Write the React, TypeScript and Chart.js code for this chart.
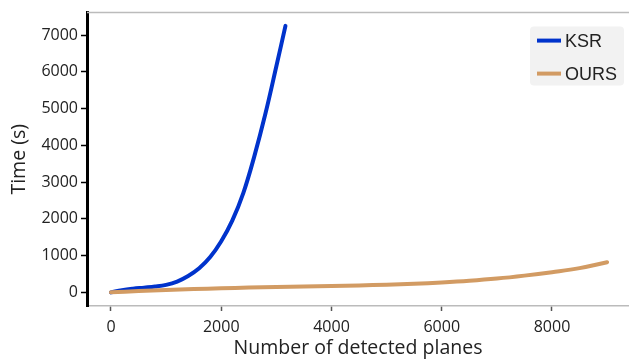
import React, { useEffect, useRef } from "react";
import { Chart, registerables } from "chart.js";

Chart.register(...registerables);

const ksrX = [0, 200, 400, 600, 800, 1000, 1200, 1400, 1600, 1800, 2000, 2200, 2400, 2600, 2800, 3000, 3165];
const ksrY = [0, 60, 100, 128, 158, 205, 295, 445, 655, 960, 1390, 1950, 2700, 3700, 4850, 6150, 7250];

const oursX = [0, 500, 1000, 1500, 2000, 2500, 3000, 3500, 4000, 4500, 5000, 5500, 6000, 6500, 7000, 7500, 8000, 8500, 9000];
const oursY = [0, 35, 65, 90, 110, 130, 145, 160, 175, 190, 210, 235, 270, 315, 375, 455, 550, 660, 820];

const xTicks = [0, 2000, 4000, 6000, 8000];
const yTicks = [0, 1000, 2000, 3000, 4000, 5000, 6000, 7000];

const seriesNames = ["KSR", "OURS"];
const seriesColors = ["#0033cc", "#d29b63"];

const FONT = "'Open Sans', 'Noto Sans', sans-serif";

const legendPlugin = {
  id: "innerLegend",
  afterDraw(chart: any) {
    const { ctx, chartArea } = chart;
    ctx.save();
    ctx.strokeStyle = "#bbbbbb";
    ctx.lineWidth = 1.5;
    ctx.beginPath();
    ctx.moveTo(chartArea.left, chartArea.top);
    ctx.lineTo(chartArea.right, chartArea.top);
    ctx.stroke();

    const w = 94, h = 59;
    const x0 = chartArea.right - 5 - w;
    const y0 = chartArea.top + 14;
    ctx.fillStyle = "#f2f2f2";
    ctx.beginPath();
    (ctx as any).roundRect(x0, y0, w, h, 4);
    ctx.fill();
    seriesNames.forEach((name, i) => {
      const cy = y0 + 14 + i * 33;
      ctx.strokeStyle = seriesColors[i];
      ctx.lineWidth = 4;
      ctx.beginPath();
      ctx.moveTo(x0 + 7, cy);
      ctx.lineTo(x0 + 31, cy);
      ctx.stroke();
      ctx.fillStyle = "#222222";
      ctx.font = "18px 'Liberation Sans', Arial, sans-serif";
      ctx.textBaseline = "middle";
      ctx.textAlign = "left";
      ctx.fillText(name, x0 + 35, cy + 1);
    });
    ctx.restore();
  },
};

export default function App() {
  const ref = useRef<HTMLCanvasElement | null>(null);
  useEffect(() => {
    if (!ref.current) return;
    const mk = (xs: number[], ys: number[]) => xs.map((x, i) => ({ x, y: ys[i] }));
    const chart = new Chart(ref.current, {
      type: "scatter",
      data: {
        datasets: [
          {
            label: seriesNames[1],
            data: mk(oursX, oursY),
            showLine: true,
            borderColor: seriesColors[1],
            borderWidth: 4,
            pointRadius: 0,
            tension: 0.4,
            borderCapStyle: "round",
          } as any,
          {
            label: seriesNames[0],
            data: mk(ksrX, ksrY),
            showLine: true,
            borderColor: seriesColors[0],
            borderWidth: 4,
            pointRadius: 0,
            tension: 0.4,
            borderCapStyle: "round",
          } as any,
        ],
      },
      options: {
        animation: false,
        responsive: false,
        layout: { padding: { top: 5, left: 0, right: 0, bottom: 0 } },
        plugins: { legend: { display: false }, tooltip: { enabled: false } },
        scales: {
          x: {
            type: "linear",
            min: -435,
            max: 9397,
            afterBuildTicks: (s: any) => {
              s.ticks = xTicks.map((v) => ({ value: v }));
            },
            afterFit: (s: any) => {
              s.height = 58;
            },
            ticks: {
              font: { family: FONT, size: 16 },
              color: "#222222",
              padding: 7,
              maxRotation: 0,
              callback: (v: any) => String(v),
            },
            grid: {
              drawOnChartArea: false,
              drawTicks: true,
              tickLength: 5,
              tickWidth: 1.5,
              color: "#555555",
            },
            border: { display: true, color: "#bbbbbb", width: 1.5 },
            title: {
              display: true,
              text: "Number of detected planes",
              font: { family: FONT, size: 19.5 },
              color: "#222222",
              padding: { top: 0, bottom: 4 },
            },
          },
          y: {
            type: "linear",
            min: -371,
            max: 7611,
            afterBuildTicks: (s: any) => {
              s.ticks = yTicks.map((v) => ({ value: v }));
            },
            afterFit: (s: any) => {
              s.width = 87;
            },
            ticks: {
              font: { family: FONT, size: 16 },
              color: "#222222",
              padding: 3,
              callback: (v: any) => String(v),
            },
            grid: {
              drawOnChartArea: false,
              drawTicks: true,
              tickLength: 6,
              tickWidth: 1.5,
              color: "#000000",
            },
            border: { display: true, color: "#000000", width: 3 },
            title: {
              display: true,
              text: "Time (s)",
              font: { family: FONT, size: 19.5 },
              color: "#222222",
              padding: { top: 8, bottom: 0 },
            },
          },
        },
      },
      plugins: [legendPlugin],
    });
    return () => chart.destroy();
  }, []);
  return (
    <div style={{ position: "fixed", left: 0, top: 0, width: 629, height: 364, background: "#fff" }}>
      <canvas ref={ref} width={629} height={364} style={{ width: 629, height: 364, display: "block" }} />
    </div>
  );
}
